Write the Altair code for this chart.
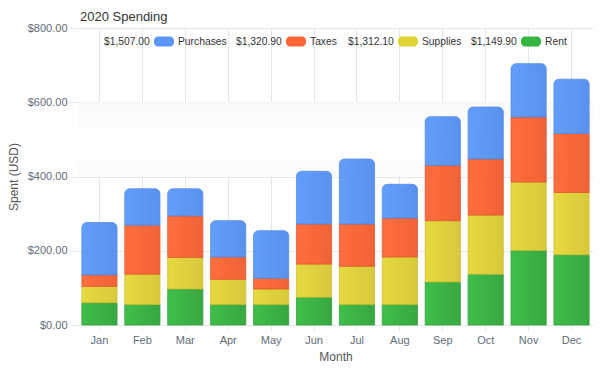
import altair as alt
import pandas as pd

months = ["Jan", "Feb", "Mar", "Apr", "May", "Jun", "Jul", "Aug", "Sep", "Oct", "Nov", "Dec"]
series = ["Rent", "Supplies", "Taxes", "Purchases"]
rent = [60, 55, 97, 55, 55, 75, 55, 55, 116, 137, 201, 189]
supplies = [44, 82, 85, 68, 42, 89, 103, 128, 165, 159, 184, 168]
taxes = [31, 132, 112, 60, 29, 108, 114, 105, 149, 151, 175, 159]
purchases = [141, 98, 73, 98, 128, 142, 175, 91, 131, 140, 144, 146]
legend_order = ["Purchases", "Taxes", "Supplies", "Rent"]
legend_totals = ["$1,507.00", "$1,320.90", "$1,312.10", "$1,149.90"]
y_ticks = [0, 200, 400, 600, 800]

colors = {
    "Rent": ("#34bb3f", "#2ca236"),
    "Supplies": ("#e6d734", "#d6c630"),
    "Taxes": ("#ff6531", "#f05a2b"),
    "Purchases": ("#5a98fb", "#508bee"),
}
swatch = {"Rent": "#36b641", "Supplies": "#e2d437", "Taxes": "#fe6637", "Purchases": "#5a96f5"}
strokes = {"Rent": "#2a9a33", "Supplies": "#cdbd2c", "Taxes": "#e0502a", "Purchases": "#4d86e6"}

vals = {"Rent": rent, "Supplies": supplies, "Taxes": taxes, "Purchases": purchases}
rows = []
cum = [0] * len(months)
for s in series:
    for i, m in enumerate(months):
        start = cum[i]
        end = start + vals[s][i]
        rows.append({"month": m, "series": s, "start": start, "end": end, "value": vals[s][i]})
        cum[i] = end
df = pd.DataFrame(rows)

W, H = 515, 297
FONT = "Liberation Sans"

xscale = alt.Scale(domain=months, paddingInner=0.18, paddingOuter=0.09)
yscale = alt.Scale(domain=[0, 800], nice=False)

base = alt.Chart(df)

# faint background band between $400 and $600
band = alt.Chart(pd.DataFrame({"a": [600], "b": [400]})).mark_rect(
    color=alt.LinearGradient(gradient="linear", x1=0, x2=0, y1=0, y2=1,
                             stops=[alt.GradientStop(color="#f9f9f9", offset=0),
                                    alt.GradientStop(color="#ffffff", offset=0.55),
                                    alt.GradientStop(color="#fbfbfb", offset=1)])
).encode(
    y=alt.Y("a:Q", scale=yscale, axis=alt.Axis(values=y_ticks, format="$,.2f", title="Spent (USD)",
                                                 grid=True, gridColor="#e6e6e6", domain=False,
                                                 tickColor="#e6e6e6", tickSize=8, labelPadding=3,
                                                 labelColor="#5f6b7a", labelFontSize=11,
                                                 labelFont=FONT,
                                                 titleColor="#555555", titleFontSize=12,
                                                 titleFont=FONT, titleFontWeight="normal",
                                                 titleX=-65, titleY=H / 2, titleAngle=270,
                                                 titleAlign="center", titleBaseline="middle")),
    y2="b:Q",
    x=alt.value(0),
    x2=alt.value(W),
)

layers = [band]
for s in series:
    grad = alt.LinearGradient(gradient="linear", x1=0, x2=1, y1=0, y2=0,
                              stops=[alt.GradientStop(color=colors[s][0], offset=0),
                                     alt.GradientStop(color=colors[s][1], offset=1)])
    kw = {}
    if s == "Purchases":
        kw = dict(cornerRadiusTopLeft=5, cornerRadiusTopRight=5)
    layer = base.transform_filter(alt.datum.series == s).mark_bar(
        color=grad, stroke=strokes[s], strokeWidth=0.8, opacity=0.94, **kw
    ).encode(
        x=alt.X("month:N", scale=xscale, sort=months,
                axis=alt.Axis(title="Month", labelAngle=0, grid=True, gridColor="#e6e6e6",
                              domain=False, tickColor="#e6e6e6", tickSize=5, bandPosition=0.5,
                              labelColor="#5f6b7a", labelFontSize=11, labelFont=FONT,
                              labelPadding=4, titleColor="#555555", titleFontSize=12,
                              titleFont=FONT, titleFontWeight="normal",
                              titlePadding=6)),
        y=alt.Y("start:Q", scale=yscale),
        y2="end:Q",
    )
    layers.append(layer)

# custom legend (total before swatch, then name)
one = pd.DataFrame({"a": [0]})
lx = [104, 236, 348, 471]
ly = 41.5 - 28
for k, name in enumerate(legend_order):
    x0 = lx[k] - 78
    t1 = alt.Chart(one).mark_text(align="left", baseline="middle", fontSize=10.3,
                                  font=FONT, color="#333333").encode(
        x=alt.value(x0), y=alt.value(ly), text=alt.value(legend_totals[k]))
    sw = alt.Chart(one).mark_rect(cornerRadius=4, color=swatch[name]).encode(
        x=alt.value(x0 + 50), x2=alt.value(x0 + 70), y=alt.value(ly - 5), y2=alt.value(ly + 5))
    t2 = alt.Chart(one).mark_text(align="left", baseline="middle", fontSize=10.3,
                                  font=FONT, color="#333333").encode(
        x=alt.value(x0 + 74), y=alt.value(ly), text=alt.value(name))
    layers += [t1, sw, t2]

chart = alt.layer(*layers).properties(
    width=W, height=H,
    title=alt.TitleParams("2020 Spending", anchor="start", frame="group", fontSize=13, font=FONT,
                          fontWeight="normal", color="#333333", offset=0, dx=2, dy=2),
    autosize=alt.AutoSizeParams(type="none"),
    padding={"left": 70, "top": 20, "right": 3, "bottom": 38},
).configure_view(stroke=None)

chart.save("out.html", embed_options={"renderer": "svg", "actions": False})
